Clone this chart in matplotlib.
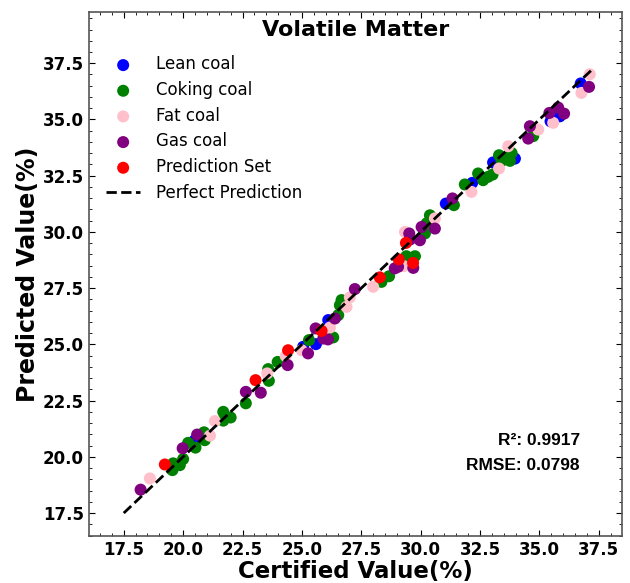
import matplotlib
matplotlib.use("Agg")
import matplotlib.pyplot as plt
from matplotlib.ticker import MultipleLocator

lean_x = [20.49, 25.05, 25.59, 26.11, 31.06, 32.17, 33.05, 33.97, 35.47, 35.86, 36.74]
lean_y = [20.74, 24.89, 25.01, 26.08, 31.26, 32.18, 33.09, 33.26, 34.92, 35.14, 36.60]

coking_x = [19.58, 19.55, 19.86, 20.00, 20.21, 20.52, 20.88, 20.91, 21.69, 21.69, 22.00,
            22.64, 23.61, 23.58, 23.98, 25.30, 26.32, 26.53, 26.60, 26.67, 28.35, 28.67,
            29.40, 29.76, 30.18, 30.25, 30.39, 31.40, 31.86, 32.42, 32.63, 32.84, 33.03,
            33.30, 33.55, 33.41, 33.83, 33.76, 34.74]
coking_y = [19.71, 19.41, 19.63, 19.90, 20.62, 20.41, 21.09, 20.74, 22.00, 21.61, 21.75,
            22.38, 23.38, 23.90, 24.22, 25.19, 25.31, 26.30, 26.74, 26.97, 27.78, 28.03,
            28.92, 28.92, 29.93, 30.38, 30.74, 31.19, 32.11, 32.60, 32.30, 32.45, 32.55,
            33.41, 33.26, 33.16, 33.51, 33.16, 34.26]

fat_x = [18.60, 21.13, 21.34, 23.54, 24.32, 24.99, 26.18, 26.88, 27.02, 28.00, 29.29,
         29.34, 30.60, 32.14, 33.30, 33.69, 34.95, 35.58, 36.77, 37.12]
fat_y = [19.04, 20.94, 21.59, 23.71, 24.48, 24.74, 25.75, 26.67, 27.09, 27.56, 28.48,
         30.00, 30.60, 31.78, 32.82, 33.81, 34.55, 34.85, 36.18, 37.01]

gas_x = [18.21, 19.98, 20.59, 22.64, 23.27, 24.40, 25.26, 25.58, 25.90, 26.10, 26.39,
         27.23, 28.91, 29.05, 29.69, 29.52, 29.55, 29.97, 30.04, 30.60, 31.34, 34.53,
         34.60, 35.42, 35.79, 36.04, 37.09]
gas_y = [18.54, 20.38, 20.99, 22.89, 22.85, 24.08, 24.60, 25.71, 25.26, 25.22, 26.15,
         27.46, 28.38, 28.45, 28.40, 29.93, 29.66, 29.63, 30.22, 30.15, 31.49, 34.15,
         34.70, 35.29, 35.53, 35.26, 36.45]

pred_x = [19.23, 23.05, 24.42, 25.83, 28.28, 29.08, 29.68, 29.38]
pred_y = [19.66, 23.41, 24.74, 25.60, 27.98, 28.78, 28.62, 29.51]

line_range = [17.5, 37.3]
title = "Volatile Matter"
r2_text = "R²: 0.9917"
rmse_text = "RMSE: 0.0798"

fig = plt.figure(figsize=(6.3, 5.83), dpi=100)
ax = fig.add_axes([0.141, 0.0806, 0.846, 0.8985])

s = 75
ax.scatter(lean_x, lean_y, c="blue", s=s, label="Lean coal", edgecolors="none", zorder=3)
ax.scatter(coking_x, coking_y, c="green", s=s, label="Coking coal", edgecolors="none", zorder=3)
ax.scatter(fat_x, fat_y, c="pink", s=s, label="Fat coal", edgecolors="none", zorder=3)
ax.scatter(gas_x, gas_y, c="purple", s=s, label="Gas coal", edgecolors="none", zorder=3)
ax.scatter(pred_x, pred_y, c="red", s=s, label="Prediction Set", edgecolors="none", zorder=4)
ax.plot(line_range, line_range, "k--", lw=2, label="Perfect Prediction", zorder=5)

ax.set_xlim(16.03, 38.47)
ax.set_ylim(16.48, 39.77)
ax.xaxis.set_major_locator(MultipleLocator(2.5))
ax.yaxis.set_major_locator(MultipleLocator(2.5))
ax.xaxis.set_minor_locator(MultipleLocator(0.5))
ax.yaxis.set_minor_locator(MultipleLocator(0.5))
ax.tick_params(which="both", direction="in", top=True, right=True)
ax.tick_params(which="major", length=4, labelsize=12)
ax.tick_params(which="minor", length=2)
for lbl in ax.get_xticklabels() + ax.get_yticklabels():
    lbl.set_fontweight("bold")
for sp in ax.spines.values():
    sp.set_color("#555555")
    sp.set_linewidth(1.2)

ax.set_xlabel("Certified Value(%)", fontsize=16.5, fontweight="bold", labelpad=1)
ax.set_ylabel("Predicted Value(%)", fontsize=17, fontweight="bold", labelpad=2)
ax.text(0.5, 0.985, title, transform=ax.transAxes, ha="center", va="top",
        fontsize=16, fontweight="bold")

ax.text(0.921, 0.183, r2_text, transform=ax.transAxes, ha="right", va="center",
        fontsize=12.5, fontweight="bold", family="Liberation Sans")
ax.text(0.921, 0.135, rmse_text, transform=ax.transAxes, ha="right", va="center",
        fontsize=12.5, fontweight="bold", family="Liberation Sans")

ax.legend(loc="upper left", frameon=False, fontsize=12, bbox_to_anchor=(0.005, 0.946),
          handletextpad=1.0, labelspacing=0.46)

fig.savefig("out.png", dpi=100)
